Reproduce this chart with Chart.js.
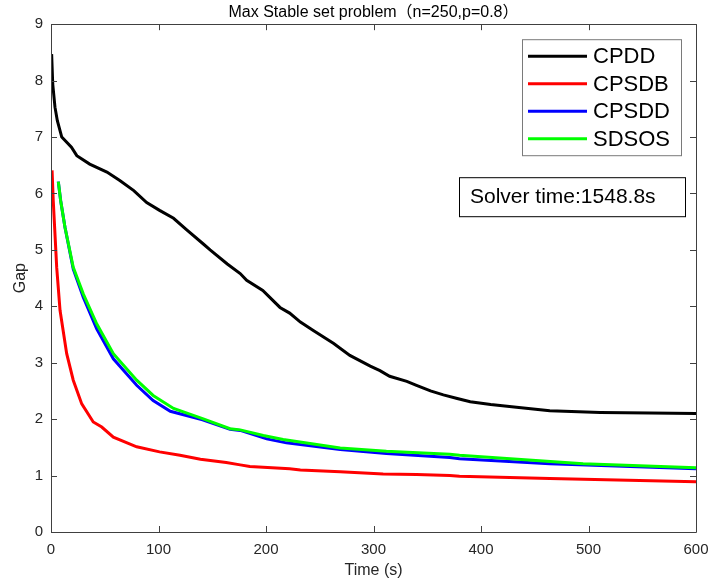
<!DOCTYPE html>
<html>
<head>
<meta charset="utf-8">
<script src="https://cdn.jsdelivr.net/npm/chart.js@4/dist/chart.umd.min.js"></script>
<style>
html,body{margin:0;padding:0;background:#fff;}
#wrap{width:711px;height:580px;}
</style>
</head>
<body>
<div id="wrap"><canvas id="c" width="711" height="580"></canvas></div>
<script>
// ---- data ----
const seriesNames = ["CPDD", "CPSDB", "CPSDD", "SDSOS"];
const seriesColors = ["#000000", "#ff0000", "#0000ff", "#00ff00"];

const cpddT = [0.6,1.6,3.7,5.9,10,19,24,36,52,64,77,89,101,114,126,142,148,164,176,182,197,213,222,232,244,263,278,297,306,315,331,340,353,365,377,390,409,433,464,511,557,600];
const cpddV = [8.47,7.94,7.53,7.29,7.0,6.82,6.67,6.52,6.38,6.23,6.05,5.84,5.70,5.56,5.36,5.10,5.00,4.75,4.58,4.46,4.28,3.98,3.88,3.72,3.57,3.34,3.13,2.94,2.86,2.76,2.67,2.60,2.50,2.43,2.37,2.31,2.26,2.21,2.15,2.12,2.11,2.10];

const cpsdbT = [1,2.1,5.3,8.4,14.6,20.7,28.6,39.3,47.2,58,79.7,101,120,139,163,176,185,222,232,269,309,340,371,380,464,600];
const cpsdbV = [6.41,5.87,4.69,3.93,3.16,2.69,2.27,1.95,1.86,1.68,1.51,1.42,1.36,1.29,1.23,1.19,1.16,1.12,1.10,1.07,1.03,1.02,1.00,0.99,0.95,0.89];

const cpsddT = [6.8,9,13,20.7,30,42.5,58,79.7,95,111,141,166.5,176,200.7,219,269,312,371,380,464,600];
const cpsddV = [6.21,5.87,5.40,4.66,4.16,3.60,3.07,2.60,2.33,2.14,1.99,1.82,1.80,1.65,1.58,1.46,1.39,1.32,1.30,1.21,1.12];

const sdsosT = [6.8,9,13,20.7,30,42.5,58,79.7,95,114,141,166.5,176,197.5,216,269,312,371,380,495,600];
const sdsosV = [6.21,5.87,5.40,4.69,4.22,3.69,3.16,2.69,2.42,2.19,2.01,1.83,1.81,1.71,1.64,1.49,1.43,1.38,1.36,1.21,1.14];

const xTicks = [0,100,200,300,400,500,600];
const yTicks = [0,1,2,3,4,5,6,7,8,9];
const titleText = "Max Stable set problem（n=250,p=0.8）";
const xLabel = "Time (s)";
const yLabel = "Gap";
const noteText = "Solver time:1548.8s";

// ---- build ----
const allT = [cpddT, cpsdbT, cpsddT, sdsosT];
const allV = [cpddV, cpsdbV, cpsddV, sdsosV];
const drawOrder = [0, 1, 3, 2];
const datasets = seriesNames.map((n, i) => ({
  label: n,
  data: allT[i].map((t, k) => ({x: t, y: allV[i][k]})),
  borderColor: seriesColors[i],
  backgroundColor: seriesColors[i],
  borderWidth: 3,
  pointRadius: 0,
  tension: 0,
  fill: false,
  order: drawOrder[i]
}));

const FONT = "'Liberation Sans', Arial, 'Noto Sans CJK JP', sans-serif";
const AXC = "#404040";

const framePlugin = {
  id: 'frame',
  afterDraw(chart) {
    const ctx = chart.ctx;
    const a = chart.chartArea;
    const xs = chart.scales.x, ys = chart.scales.y;
    ctx.save();
    ctx.strokeStyle = AXC;
    ctx.lineWidth = 1;
    ctx.beginPath();
    ctx.rect(Math.round(a.left) + 0.5, Math.round(a.top) + 0.5, Math.round(a.right - a.left), Math.round(a.bottom - a.top));
    ctx.stroke();
    const tl = 6;
    ctx.beginPath();
    xTicks.forEach(v => {
      const px = Math.round(xs.getPixelForValue(v)) + 0.5;
      ctx.moveTo(px, a.bottom); ctx.lineTo(px, a.bottom - tl);
      ctx.moveTo(px, a.top); ctx.lineTo(px, a.top + tl);
    });
    yTicks.forEach(v => {
      const py = Math.round(ys.getPixelForValue(v)) + 0.5;
      ctx.moveTo(a.left, py); ctx.lineTo(a.left + tl, py);
      ctx.moveTo(a.right, py); ctx.lineTo(a.right - tl, py);
    });
    ctx.stroke();

    // legend box
    const lx = a.right - 174, ly = a.top + 15, lw = 159, lh = 116;
    ctx.fillStyle = "#fff";
    ctx.fillRect(lx, ly, lw, lh);
    ctx.strokeStyle = "#7a7a7a";
    ctx.strokeRect(lx + 0.5, ly + 0.5, lw, lh);
    ctx.font = "22px " + FONT;
    ctx.textBaseline = "middle";
    ctx.textAlign = "left";
    chart.data.datasets.forEach((ds, i) => {
      const yy = ly + 17 + i * 27.5;
      ctx.strokeStyle = ds.borderColor;
      ctx.lineWidth = 3;
      ctx.beginPath();
      ctx.moveTo(lx + 6, yy); ctx.lineTo(lx + 65, yy);
      ctx.stroke();
      ctx.fillStyle = "#000";
      ctx.fillText(ds.label, lx + 71, yy + 1);
    });

    // note box
    const nx = a.right - 237, ny = a.top + 153, nw = 226, nh = 39;
    ctx.fillStyle = "#fff";
    ctx.fillRect(nx, ny, nw, nh);
    ctx.strokeStyle = "#000";
    ctx.lineWidth = 1;
    ctx.strokeRect(nx + 0.5, ny + 0.5, nw, nh);
    ctx.fillStyle = "#000";
    ctx.font = "21px " + FONT;
    ctx.fillText(noteText, nx + 11, ny + nh / 2 + 1);
    ctx.restore();
  }
};

new Chart(document.getElementById('c'), {
  type: 'line',
  data: { datasets },
  plugins: [framePlugin],
  options: {
    responsive: false,
    animation: false,
    parsing: true,
    layout: { padding: { left: 0, right: 15, top: 0, bottom: 0 } },
    plugins: {
      legend: { display: false },
      tooltip: { enabled: false },
      title: {
        display: true,
        text: titleText,
        fullSize: false,
        color: "#000",
        font: { family: FONT, size: 16, weight: 'normal' },
        padding: { top: 3, bottom: 2 }
      }
    },
    scales: {
      x: {
        type: 'linear',
        min: 0, max: 600,
        afterBuildTicks(s) { s.ticks = xTicks.map(v => ({value: v})); },
        afterFit(s) { s.height = 48; s.paddingLeft = 0; s.paddingRight = 0; },
        grid: { display: false, drawTicks: false },
        border: { display: false },
        ticks: { color: "#262626", font: { family: FONT, size: 15 }, padding: 9, maxRotation: 0 },
        title: { display: true, text: xLabel, color: "#262626", font: { family: FONT, size: 16 }, padding: { top: 0, bottom: 0 } }
      },
      y: {
        type: 'linear',
        min: 0, max: 9,
        afterBuildTicks(s) { s.ticks = yTicks.map(v => ({value: v})); },
        afterFit(s) { s.width = 51; s.paddingTop = 0; s.paddingBottom = 0; },
        grid: { display: false, drawTicks: false },
        border: { display: false },
        ticks: { color: "#262626", font: { family: FONT, size: 15 }, padding: 8 },
        title: { display: true, text: yLabel, color: "#262626", font: { family: FONT, size: 16 }, padding: { top: 11, bottom: 0 } }
      }
    }
  }
});
</script>
</body>
</html>
